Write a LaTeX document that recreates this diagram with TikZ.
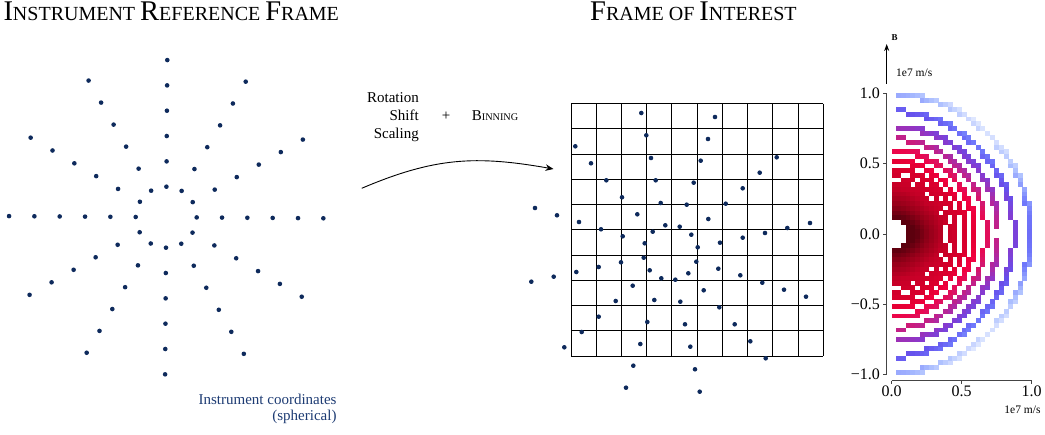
\documentclass[tikz,border=0pt]{standalone}
\usepackage{fontspec}
\setmainfont{Liberation Serif}
\usetikzlibrary{arrows.meta}

% point and text colours
\definecolor{dotc}{HTML}{0E2A5C}
\definecolor{capc}{HTML}{1D3B73}
\definecolor{axc}{HTML}{444444}
% colour map of the velocity distribution (low values are light blue)
\definecolor{cmA}{HTML}{5C000E}
\definecolor{cmB}{HTML}{950019}
\definecolor{cmC}{HTML}{C40026}
\definecolor{cmD}{HTML}{DC002E}
\definecolor{cmE}{HTML}{F3003F}
\definecolor{cmF}{HTML}{DC1262}
\definecolor{cmG}{HTML}{B82596}
\definecolor{cmH}{HTML}{8A38CC}
\definecolor{cmI}{HTML}{6650EC}
\definecolor{cmJ}{HTML}{6F78FB}
\definecolor{cmK}{HTML}{A9BCFF}
\definecolor{cmL}{HTML}{E6EDFF}

\newcommand\titlebig{\fontsize{28.5}{30}\selectfont}
\newcommand\titlesmall{\fontsize{20}{22}\selectfont}
\newcommand\labelfont{\fontsize{15}{18}\selectfont}
\newcommand\labelsmall{\fontsize{10.2}{12}\selectfont}
\newcommand\tickfont{\fontsize{16}{18}\selectfont}
\newcommand\unitfont{\fontsize{11.5}{13}\selectfont}

% linear blend between two colour stops, for the value \tv
\newcommand\mixstop[4]{%
  \pgfmathtruncatemacro\mixp{100*(\tv-#1)/(#2-#1)}%
  \colorlet{cellc}{#4!\mixp!#3}}
\newcommand\pickcmap{%
  \ifdim\tv pt<0.20pt \mixstop{0.10}{0.20}{cmA}{cmB}\else
  \ifdim\tv pt<0.32pt \mixstop{0.20}{0.32}{cmB}{cmC}\else
  \ifdim\tv pt<0.48pt \mixstop{0.32}{0.48}{cmC}{cmD}\else
  \ifdim\tv pt<0.56pt \mixstop{0.48}{0.56}{cmD}{cmE}\else
  \ifdim\tv pt<0.63pt \mixstop{0.56}{0.63}{cmE}{cmF}\else
  \ifdim\tv pt<0.70pt \mixstop{0.63}{0.70}{cmF}{cmG}\else
  \ifdim\tv pt<0.78pt \mixstop{0.70}{0.78}{cmG}{cmH}\else
  \ifdim\tv pt<0.86pt \mixstop{0.78}{0.86}{cmH}{cmI}\else
  \ifdim\tv pt<0.93pt \mixstop{0.86}{0.93}{cmI}{cmJ}\else
  \ifdim\tv pt<1.00pt \mixstop{0.93}{1.00}{cmJ}{cmK}\else
  \mixstop{1.00}{1.08}{cmK}{cmL}%
  \fi\fi\fi\fi\fi\fi\fi\fi\fi\fi}

\begin{document}
\begin{tikzpicture}[x=1pt,y=-1pt,
  sample/.style={fill=dotc},
  txt/.style={inner sep=0pt},
  axisline/.style={draw=axc,line width=0.9pt},
  binline/.style={draw=black,line width=0.9pt}]
\useasboundingbox (0,0) rectangle (1045,435);

% ---------- titles ----------
\node[txt,anchor=base west] (titleleft) at (3.3,20.5)
  {\titlebig I\titlesmall NSTRUMENT \titlebig R\titlesmall EFERENCE \titlebig F\titlesmall RAME};
\node[txt,anchor=base west] (titleright) at (590,20.5)
  {\titlebig F\titlesmall RAME OF \titlebig I\titlesmall NTEREST};

% ---------- instrument samples: 12 look directions, 6 energies ----------
\foreach \a in {0,30,...,330}{
  \foreach \k in {0,...,5}{
    \fill[sample] ({166.2+(30.5+25.33*\k)*cos(\a-0.4)},{217.2-(30.5+25.33*\k)*sin(\a-0.4)}) circle[radius=2.3pt];
  }
}
\node[txt,anchor=base east,text=capc] (capA) at (336.7,405) {\labelfont Instrument coordinates};
\node[txt,anchor=base east,text=capc] (capB) at (336.7,420.7) {\labelfont (spherical)};

% ---------- transformation labels and arrow ----------
\node[txt,anchor=base east] (rot) at (419,103) {\labelfont Rotation};
\node[txt,anchor=base east] (shf) at (419,121) {\labelfont Shift};
\node[txt,anchor=base east] (scl) at (419,139) {\labelfont Scaling};
\node[txt,anchor=base] (plus) at (446,121) {\labelfont +};
\node[txt,anchor=base west] (binning) at (471.7,121) {\labelfont B\labelsmall INNING};

\coordinate (arrS) at (361.7,188.3);
\coordinate (arrE) at (553.5,169);
\draw[line width=0.9pt,-{Stealth[length=8pt,width=6.5pt]}] (arrS) to[out=23,in=170,looseness=1.05] (arrE);

% ---------- binning grid with transformed samples ----------
\foreach \g in {0,...,10}{
  \draw[binline] ({571+25.23*\g},103.7) -- ({571+25.23*\g},356);
  \draw[binline] (571,{103.7+25.23*\g}) -- (823.3,{103.7+25.23*\g});
}
\foreach \px/\py in {
641.3/113.0, 715.0/117.0, 646.3/135.3, 708.0/139.0, 575.3/146.3, 651.0/158.0,
700.7/160.7, 776.7/157.3, 591.0/163.3, 759.7/172.7, 606.3/180.3, 655.7/180.3,
693.7/182.7, 742.7/188.3, 622.0/197.3, 660.7/203.0, 686.7/204.7, 725.7/203.7,
535.0/208.0, 557.0/215.3, 637.3/214.3, 579.0/222.0, 708.3/219.0, 665.3/225.3,
679.7/226.7, 601.0/229.3, 652.7/231.7, 691.3/234.7, 765.0/233.0, 787.3/228.0,
810.0/223.0, 622.7/236.3, 742.7/237.7, 644.7/243.3, 720.0/242.7, 697.7/247.3,
643.7/257.7, 621.0/262.3, 696.3/261.7, 598.7/267.0, 718.3/268.7, 649.7/270.3,
576.3/272.0, 688.3/273.3, 740.3/275.3, 661.3/278.3, 675.3/279.7, 531.3/281.7,
553.7/276.7, 762.3/282.7, 632.7/285.7, 703.7/290.3, 784.0/289.7, 806.0/296.7,
615.7/301.0, 654.3/300.0, 680.3/301.7, 719.3/307.3, 598.7/316.7, 647.3/322.0,
685.0/324.3, 734.7/324.3, 581.7/332.0, 750.3/341.3, 564.3/347.3, 640.3/344.0,
690.3/346.7, 765.7/358.3, 633.3/365.7, 695.0/369.3, 626.0/387.7, 699.7/391.7}{
  \fill[sample] (\px,\py) circle[radius=2.3pt];
}

% ---------- velocity distribution in the field-aligned frame ----------
% cells of 1/30 are filled where one of the energy shells (radii 0.99*0.88^k)
% passes through the cell (a thin margin of the cell is ignored)
\begin{scope}[shift={(891.7,234)},x=140pt,y=140.7pt]
\foreach \i in {0,...,29}{
  \foreach \j in {0,...,59}{
    \pgfmathsetmacro\xa{\i/30}%
    \pgfmathsetmacro\xb{(\i+1)/30}%
    \pgfmathsetmacro\ya{(\j-30)/30}%
    \pgfmathsetmacro\yb{(\j-29)/30}%
    \pgfmathsetmacro\yn{min(abs(\ya+0.0015),abs(\yb-0.0015))}%
    \pgfmathsetmacro\yx{max(abs(\ya+0.0015),abs(\yb-0.0015))}%
    \pgfmathsetmacro\dmn{max(sqrt((\xa+0.0015)^2+\yn*\yn),0.001)}%
    \pgfmathsetmacro\dmx{sqrt((\xb-0.0015)^2+\yx*\yx)}%
    \pgfmathtruncatemacro\klo{max(ceil(ln(0.99/\dmx)/0.127833),0)}%
    \pgfmathtruncatemacro\khi{min(floor(ln(0.99/\dmn)/0.127833),16)}%
    \pgfmathtruncatemacro\keep{((\klo<=\khi) && (\xb>=0.05*\dmx)) ? 1 : 0}%
    \ifnum\keep=1
      \pgfmathsetmacro\xc{(\xa+\xb)/2}%
      \pgfmathsetmacro\yc{(\ya+\yb)/2}%
      \pgfmathsetmacro\rc{sqrt(\xc*\xc+\yc*\yc)}%
      \pgfmathsetmacro\ang{atan2(\yc,\xc)}%
      \pgfmathsetmacro\tv{\rc*(1+0.12*sin(2*\ang)*sin(2*\ang))-0.07*cos(\ang)}%
      \pgfmathsetmacro\tv{min(max(\tv,0.10),1.079)}%
      \pickcmap
      \fill[cellc] (\xa,\ya) rectangle ({\xb+0.0015},{\yb+0.0015});
    \fi
  }
}
\end{scope}

% axes
\draw[axisline] (886.7,93.3) -- (886.7,374.7);
\foreach \v/\lab [count=\n] in {93.3/1.0,163.65/0.5,234/0.0,304.35/−0.5,374.7/−1.0}{
  \draw[axisline] (886.7,\v) -- (883.2,\v);
  \node[txt,anchor=east] (ylab\n) at (880,\v) {\tickfont\lab};
}
\draw[axisline] (891.7,380.7) -- (1031.7,380.7);
\foreach \u/\lab [count=\n] in {891.7/0.0,961.7/0.5,1031.7/1.0}{
  \draw[axisline] (\u,380.7) -- (\u,384.2);
  \node[txt,anchor=base] (xlab\n) at (\u,397) {\tickfont\lab};
}
\node[txt,anchor=base east] (xunit) at (1040.7,413.3) {\unitfont 1e7 m/s};

% magnetic field direction
\coordinate (bfoot) at (886.7,84);
\coordinate (btip) at (886.7,44);
\draw[line width=0.9pt,-{Stealth[length=7pt,width=5pt]}] (bfoot) -- (btip);
\node[txt,anchor=base west] (blabel) at (891.5,41) {\fontsize{9}{10}\selectfont\bfseries B};
\node[txt,anchor=base west] (yunit) at (896,76.7) {\unitfont 1e7 m/s};
\end{tikzpicture}
\end{document}
